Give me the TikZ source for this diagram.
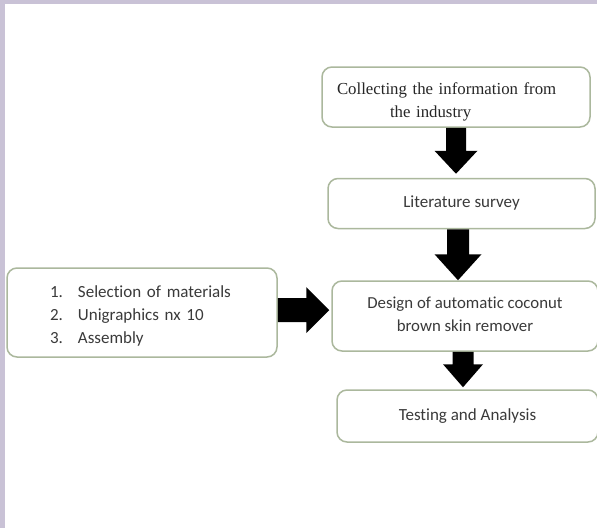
\documentclass[tikz,border=0pt]{standalone}
\usepackage{fontspec}
\setmainfont{Carlito}[Ligatures=NoCommon]
\newfontfamily\timesfont{Liberation Serif}
\usetikzlibrary{calc}
\definecolor{framelav}{HTML}{C9C2D6}
\definecolor{boxline}{HTML}{ABB89D}
\definecolor{txtgray}{HTML}{3A3A3A}
\tikzset{
  x=1pt, y=-1pt,
  stepbox/.style={draw=boxline, line width=1.5pt, rounded corners=10pt,
    fill=white, inner sep=0pt, text=txtgray, font=\fontsize{17}{21}\selectfont},
}
\newcommand\itemnum[1]{\makebox[28pt][l]{#1}}
% block arrow pointing down: #1 start point, #2 tip point,
% #3 half shaft width, #4 half head width, #5 head length (all in pt)
\newcommand\blockdown[5]{%
  \fill[black] let \p1=(#1), \p2=(#2) in
    (\x1-#3pt,\y1) -- (\x1+#3pt,\y1) -- (\x1+#3pt,\y2+#5pt) -- (\x1+#4pt,\y2+#5pt)
    -- (\x1,\y2) -- (\x1-#4pt,\y2+#5pt) -- (\x1-#3pt,\y2+#5pt) -- cycle;}
% block arrow pointing right, same arguments
\newcommand\blockright[5]{%
  \fill[black] let \p1=(#1), \p2=(#2) in
    (\x1,\y1+#3pt) -- (\x1,\y1-#3pt) -- (\x2-#5pt,\y1-#3pt) -- (\x2-#5pt,\y1-#4pt)
    -- (\x2,\y1) -- (\x2-#5pt,\y1+#4pt) -- (\x2-#5pt,\y1+#3pt) -- cycle;}
\begin{document}
\begin{tikzpicture}
  % canvas and lavender frame
  \useasboundingbox (0,0) rectangle (597,528);
  \fill[white] (0,0) rectangle (597,528);
  \fill[framelav] (0,0) rectangle (597,4);
  \fill[framelav] (0,0) rectangle (5,528);

  % process boxes
  \node[stepbox, minimum width=268pt, minimum height=60pt] (info) at (456,97) {};
  \node[text width=238pt, align=left, inner sep=0pt, text=black!85,
        font=\timesfont\fontsize{16.8}{23}\selectfont] (infotext) at (456,102)
    {Collecting the information from\\\hspace*{53pt}the industry};
  \node[stepbox, minimum width=267pt, minimum height=50pt] (lit) at (461.5,203.5) {Literature survey};
  \node[stepbox, minimum width=266pt, minimum height=70pt] (design) at (465,316) {};
  \node[align=center, inner sep=0pt, text=txtgray,
        font=\fontsize{16.8}{23}\selectfont] (designtext) at (465,314)
    {Design of automatic coconut\\brown skin remover};
  \node[stepbox, minimum width=261pt, minimum height=52pt] (test) at (467.5,416) {Testing and Analysis};
  \node[stepbox, minimum width=270pt, minimum height=89pt] (tools) at (142,312.5) {};
  \node[text width=184pt, align=left, inner sep=0pt, text=txtgray,
        font=\fontsize{17}{23}\selectfont] (toolstext) at (142,316)
    {\itemnum{1.}Selection of materials\\\itemnum{2.}Unigraphics nx 10\\\itemnum{3.}Assembly};

  % block arrows between the steps
  \blockdown{info.south}{$(info.south |- lit.north)+(0,-4)$}{10}{21.5}{23}
  \blockdown{$(lit.south)+(-3.5,0)$}{$(lit.south |- design.north)+(-3.5,0)$}{11}{23.5}{26}
  \blockdown{$(design.south)+(-2,0)$}{$(design.south |- test.north)+(-2,-2)$}{10.5}{20}{23}
  \blockright{$(tools.east)+(0,-2.5)$}{$(tools.east -| design.west)+(-2,-2.5)$}{12}{23}{23}
\end{tikzpicture}
\end{document}
